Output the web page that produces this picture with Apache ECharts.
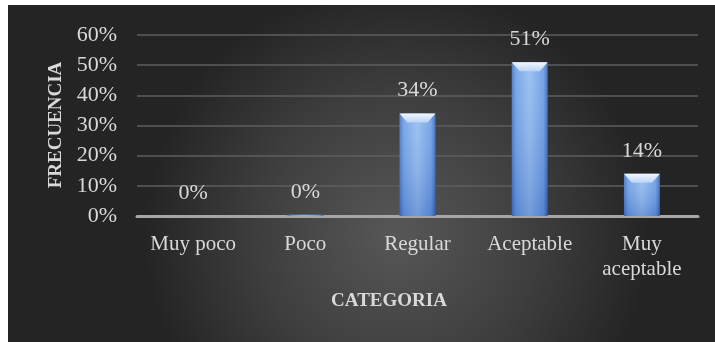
<!DOCTYPE html>
<html>
<head>
<meta charset="utf-8">
<script src="https://cdn.jsdelivr.net/npm/echarts@6/dist/echarts.min.js"></script>
<style>
  html, body { margin: 0; padding: 0; background: #ffffff; }
  #chart { width: 715px; height: 342px; }
</style>
</head>
<body>
<div id="chart"></div>
<script>
// Category names (x axis)
const categories = ['Muy poco', 'Poco', 'Regular', 'Aceptable', 'Muy\naceptable'];
// Frequency per category, in percent
const frecuencia = [0, 0.4, 34, 51, 14];
// Y axis range and tick step, in percent
const yMax = 60;
const yStep = 10;

const FONT = '"Liberation Serif", "DejaVu Serif", serif';
const TEXT = '#d9d9d9';

const chart = echarts.init(document.getElementById('chart'), null, { renderer: 'canvas' });

function renderBar(params, api) {
  const idx = api.value(0);
  const val = api.value(1);
  const top = api.coord([idx, val]);
  const base = api.coord([idx, 0]);
  const w = api.size([1, 0])[0] * 0.32;
  const x0 = top[0] - w / 2;
  const h = base[1] - top[1];
  const children = [];
  if (h > 0) {
    children.push({
      type: 'rect',
      shape: { x: x0, y: top[1], width: w, height: h },
      style: {
        fill: new echarts.graphic.LinearGradient(0, 0, 1, 0, [
          { offset: 0, color: '#3f72c4' },
          { offset: 0.12, color: '#6e9fe4' },
          { offset: 0.5, color: '#93bbf1' },
          { offset: 0.88, color: '#6a9be2' },
          { offset: 1, color: '#3566b6' }
        ])
      }
    });
    children.push({
      type: 'rect',
      shape: { x: x0, y: top[1], width: w, height: h },
      style: {
        fill: new echarts.graphic.LinearGradient(0, 0, 0, 1, [
          { offset: 0, color: 'rgba(255,255,255,0.10)' },
          { offset: 1, color: 'rgba(20,60,150,0.25)' }
        ])
      }
    });
    if (h > 12) {
      const bev = 9;
      const ins = Math.min(8, w * 0.22);
      children.push({
        type: 'polygon',
        shape: { points: [[x0, top[1]], [x0 + w, top[1]], [x0 + w - ins, top[1] + bev], [x0 + ins, top[1] + bev]] },
        style: {
          fill: new echarts.graphic.LinearGradient(0, 0, 0, 1, [
            { offset: 0, color: '#f4f8ff' },
            { offset: 1, color: '#b9d3f6' }
          ])
        }
      });
    }
  }
  children.push({
    type: 'text',
    style: {
      text: Math.round(val) + '%',
      x: top[0],
      y: top[1] - 12,
      align: 'center',
      verticalAlign: 'bottom',
      fill: TEXT,
      font: '22px ' + FONT
    }
  });
  return { type: 'group', children: children };
}

const option = {
  backgroundColor: '#ffffff',
  animation: false,
  graphic: [
    {
      type: 'rect',
      z: -10,
      silent: true,
      shape: { x: 8, y: 5, width: 707, height: 337 },
      style: {
        fill: new echarts.graphic.RadialGradient(0.55, 0.68, 0.75, [
          { offset: 0, color: '#575757' },
          { offset: 0.55, color: '#3e3e3e' },
          { offset: 1, color: '#242424' }
        ])
      }
    },
    {
      type: 'text',
      x: 56,
      y: 125,
      rotation: Math.PI / 2,
      style: {
        text: 'FRECUENCIA',
        fill: TEXT,
        font: 'bold 19px ' + FONT,
        x: 0,
        y: 0,
        align: 'center',
        verticalAlign: 'middle'
      }
    },
    {
      type: 'text',
      style: {
        text: 'CATEGORIA',
        fill: TEXT,
        font: 'bold 19px ' + FONT,
        x: 389,
        y: 301,
        align: 'center',
        verticalAlign: 'middle'
      }
    }
  ],
  grid: { left: 137, right: 17, top: 35, bottom: 126, containLabel: false },
  xAxis: {
    type: 'category',
    data: categories,
    axisLine: { show: true, lineStyle: { color: '#a6a6a6', width: 3 } },
    axisTick: { show: false },
    axisLabel: { color: TEXT, fontFamily: FONT, fontSize: 21, margin: 16, lineHeight: 25, interval: 0 }
  },
  yAxis: {
    type: 'value',
    min: 0,
    max: yMax,
    interval: yStep,
    axisLine: { show: false },
    axisTick: { show: false },
    axisLabel: { color: TEXT, fontFamily: FONT, fontSize: 22, margin: 20, formatter: v => v + '%' },
    splitLine: { lineStyle: { color: '#5e5e5e', width: 1.5 } }
  },
  series: [
    {
      type: 'custom',
      renderItem: renderBar,
      data: frecuencia.map((v, i) => [i, v]),
      encode: { x: 0, y: 1 },
      z: 3
    }
  ]
};

chart.setOption(option);
</script>
</body>
</html>
